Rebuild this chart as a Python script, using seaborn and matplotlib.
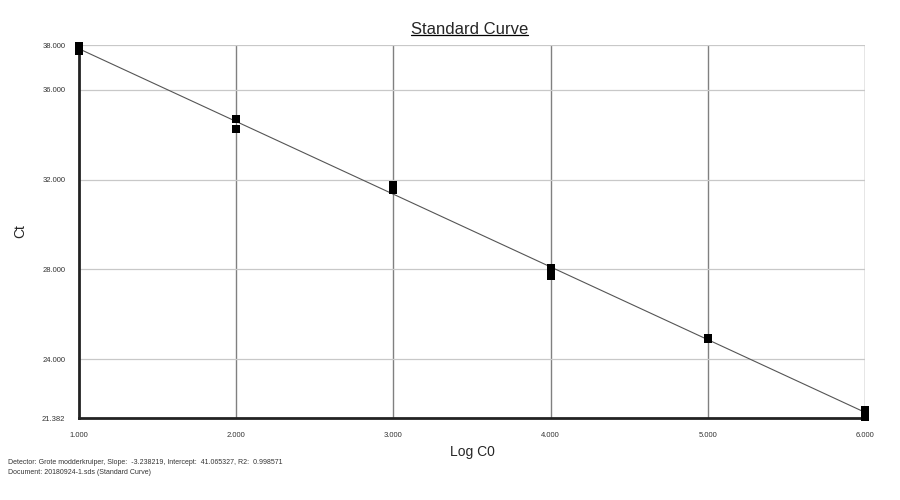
import numpy as np
import pandas as pd
import seaborn as sns
import matplotlib.pyplot as plt
from matplotlib.lines import Line2D

# donnees
log_c0 = [1, 1, 1, 2, 2, 3, 3, 4, 4, 4, 5, 5, 6, 6, 6]
ct = [37.95, 37.85, 37.72, 34.70, 34.26, 31.76, 31.54, 28.05, 27.86, 27.72,
      24.95, 24.88, 21.75, 21.58, 21.42]
slope = -3.238219
intercept = 41.065327
r2 = 0.998571
y_ticks = [21.382, 24.0, 28.0, 32.0, 36.0, 38.0]
x_ticks = [1, 2, 3, 4, 5, 6]

df = pd.DataFrame({"Log C0": log_c0, "Ct": ct})
fit = pd.DataFrame({"Log C0": [1, 6]})
fit["Ct"] = intercept + slope * fit["Log C0"]

sns.set_style("white")
plt.rcParams['font.family'] = ['Arial', 'Liberation Sans', 'DejaVu Sans']

fig = plt.figure(figsize=(9, 5), dpi=100)
ax = fig.add_axes([0.088, 0.164, 0.873, 0.746])

# grille : verticales sombres, horizontales claires
for x in x_ticks[1:]:
    ax.axvline(x, color="#808080", lw=1.0, zorder=0)
for y in y_ticks[1:]:
    ax.axhline(y, color="#c8c8c8", lw=0.9, zorder=0)

sns.lineplot(data=fit, x="Log C0", y="Ct", color="#555555", lw=0.8, ax=ax, zorder=2)
sns.scatterplot(data=df, x="Log C0", y="Ct", marker="s", s=30, color="black",
                edgecolor="black", linewidth=0, ax=ax, zorder=3)
for coll in ax.collections:
    coll.set_clip_on(False)

ax.set_xlim(1, 6)
ax.set_ylim(21.382, 38.0)
ax.set_xticks(x_ticks)
ax.set_xticklabels(["%.3f" % v for v in x_ticks], fontsize=5.5, color="#333333")
ax.set_yticks(y_ticks)
ax.set_yticklabels(["%.3f" % v for v in y_ticks], fontsize=5.5, color="#333333")
ax.tick_params(length=0, pad=10)
for side in ["top", "right"]:
    ax.spines[side].set_visible(False)
for side in ["left", "bottom"]:
    ax.spines[side].set_color("#222222")
    ax.spines[side].set_linewidth(2)
ax.set_xlabel("Log C0", fontsize=10)
ax.set_ylabel("Ct", fontsize=10)
ax.xaxis.set_label_coords(0.5, -0.072)
ax.yaxis.set_label_coords(-0.066, 0.5)

title = fig.text(0.522, 0.927, "Standard Curve", ha="center", va="bottom", fontsize=12)
fig.canvas.draw()
bb = title.get_window_extent().transformed(fig.transFigure.inverted())
fig.add_artist(Line2D([bb.x0, bb.x1], [bb.y0 + 0.004, bb.y0 + 0.004], color="black", lw=0.9))

fig.text(0.009, 0.072,
         "Detector: Grote modderkruiper, Slope:  %.6f, Intercept:  %.6f, R2:  %.6f" % (slope, intercept, r2),
         fontsize=5, color="#333333")
fig.text(0.009, 0.052, "Document: 20180924-1.sds (Standard Curve)", fontsize=5, color="#333333")

fig.savefig("out.png", dpi=100)
